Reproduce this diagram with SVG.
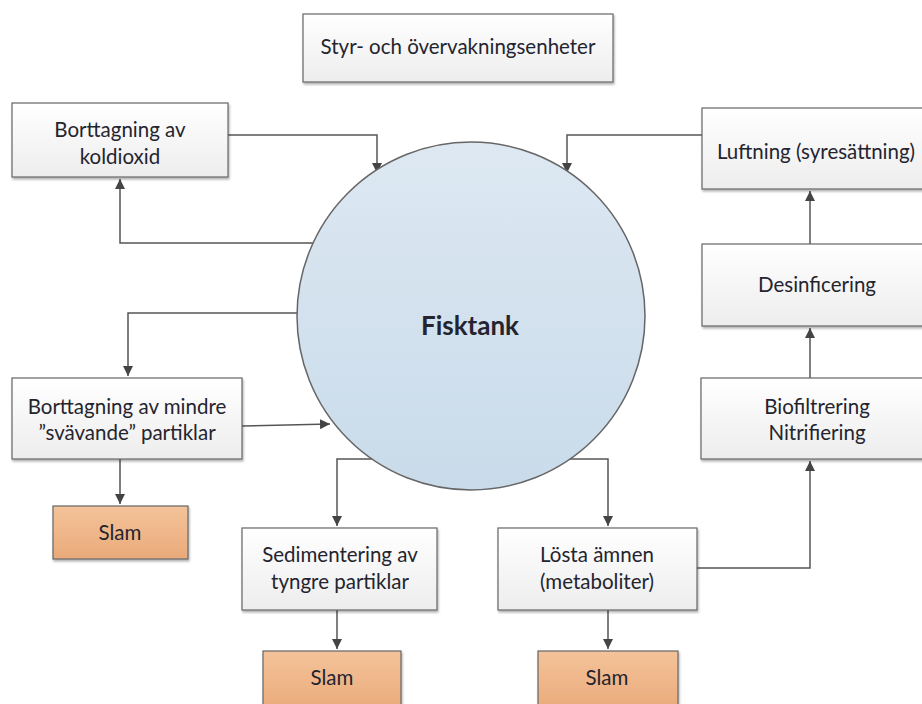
<svg xmlns="http://www.w3.org/2000/svg" width="922" height="704" viewBox="0 0 922 704">
<defs>
<linearGradient id="boxg" x1="0" y1="0" x2="0" y2="1"><stop offset="0" stop-color="#ffffff"/><stop offset="1" stop-color="#ededed"/></linearGradient>
<linearGradient id="slamg" x1="0" y1="0" x2="0" y2="1"><stop offset="0" stop-color="#f4c39a"/><stop offset="1" stop-color="#eaaa7a"/></linearGradient>
<linearGradient id="circg" x1="0" y1="0" x2="0" y2="1"><stop offset="0" stop-color="#dde8f2"/><stop offset="1" stop-color="#c9dbea"/></linearGradient>
<marker id="ah" viewBox="0 0 10 10" refX="10" refY="5" markerWidth="10" markerHeight="10" markerUnits="userSpaceOnUse" orient="auto"><path d="M0,0 L10,5 L0,10 z" fill="#444"/></marker>
<filter id="sh" x="-5%" y="-5%" width="112%" height="120%"><feDropShadow dx="1" dy="2" stdDeviation="1" flood-color="#000" flood-opacity="0.3"/></filter>
</defs>
<style>
.box{fill:url(#boxg);stroke:#666;stroke-width:1.2;filter:url(#sh)}
.slam{fill:url(#slamg);stroke:#666;stroke-width:1.2;filter:url(#sh)}
.t{font-family:Lato,"Liberation Sans",sans-serif;font-size:20.5px;fill:#24242e;text-anchor:middle}
.c{fill:none;stroke:#555;stroke-width:1.5;marker-end:url(#ah)}
</style>
<g id="connectors">
<path class="c" d="M228,135 H377 V173"/>
<path class="c" d="M313,243 H120 V179"/>
<path class="c" d="M702,135 H567 V173"/>
<path class="c" d="M810,244 V191"/>
<path class="c" d="M810,378 V328"/>
<path class="c" d="M697,568 H810 V461"/>
<path class="c" d="M299,313 H128 V376"/>
<path class="c" d="M242,426 L330,424"/>
<path class="c" d="M120,459 V504"/>
<path class="c" d="M373,459 H337 V526"/>
<path class="c" d="M569,459 H608 V526"/>
<path class="c" d="M337,610 V649"/>
<path class="c" d="M608,610 V649"/>
</g>
<g id="fisktank"><circle cx="471" cy="316" r="174" fill="url(#circg)" stroke="#666" stroke-width="1.5"/><text class="t" x="470" y="335" style="font-size:26px;font-weight:bold">Fisktank</text></g>
<g id="styr"><rect class="box" x="303" y="14" width="310" height="68"/><text class="t" x="458" y="54">Styr- och övervakningsenheter</text></g>
<g id="koldioxid"><rect class="box" x="12" y="103" width="216" height="74"/><text class="t" x="120" y="137">Borttagning av</text><text class="t" x="120" y="164">koldioxid</text></g>
<g id="luftning"><rect class="box" x="702" y="108" width="224" height="81"/><text class="t" x="816" y="159">Luftning (syresättning)</text></g>
<g id="desinficering"><rect class="box" x="702" y="244" width="224" height="82"/><text class="t" x="817" y="292">Desinficering</text></g>
<g id="biofiltrering"><rect class="box" x="701" y="378" width="225" height="81"/><text class="t" x="817" y="414">Biofiltrering</text><text class="t" x="817" y="440">Nitrifiering</text></g>
<g id="svavande"><rect class="box" x="12" y="378" width="230" height="81"/><text class="t" x="127" y="414">Borttagning av mindre</text><text class="t" x="127" y="440">”svävande” partiklar</text></g>
<g id="slam1"><rect class="slam" x="53" y="506" width="135" height="53"/><text class="t" x="120" y="540">Slam</text></g>
<g id="sedimentering"><rect class="box" x="242" y="528" width="195" height="82"/><text class="t" x="340" y="562">Sedimentering av</text><text class="t" x="340" y="589">tyngre partiklar</text></g>
<g id="losta"><rect class="box" x="498" y="528" width="199" height="82"/><text class="t" x="597" y="562">Lösta ämnen</text><text class="t" x="597" y="589">(metaboliter)</text></g>
<g id="slam2"><rect class="slam" x="263" y="651" width="138" height="60"/><text class="t" x="332" y="685">Slam</text></g>
<g id="slam3"><rect class="slam" x="538" y="651" width="140" height="60"/><text class="t" x="607" y="685">Slam</text></g>
</svg>
